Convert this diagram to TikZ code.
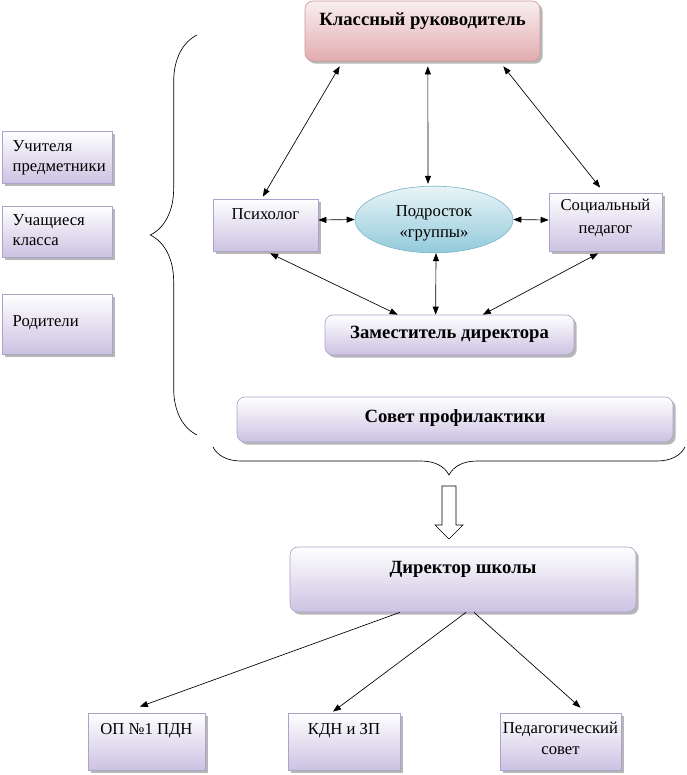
\documentclass[tikz,border=0pt]{standalone}
\usepackage{fontspec}
\setmainfont{Liberation Serif}
\usetikzlibrary{arrows.meta,shadows,shapes.geometric,decorations.pathreplacing}

\definecolor{lil}{RGB}{204,194,226}
\definecolor{lilline}{RGB}{172,162,204}
\definecolor{rose}{RGB}{226,172,176}
\definecolor{roseline}{RGB}{204,150,154}
\definecolor{aqua}{RGB}{146,202,218}
\definecolor{aqualine}{RGB}{128,184,200}

\tikzset{
  card/.style={draw=lilline, line width=0.5pt, top color=white, bottom color=lil,
    inner sep=0pt, drop shadow={shadow xshift=2pt, shadow yshift=-2pt, fill=gray!80, opacity=0.7},
    font=\fontsize{12.5}{15}\selectfont},
  bigcard/.style={card, rounded corners=6pt, font=\fontsize{14}{16.5}\selectfont\bfseries},
  link/.style={<->, >={Triangle[length=6pt,width=4.5pt]}, line width=0.5pt},
  order/.style={->, >={Triangle[length=6pt,width=4.5pt]}, line width=0.5pt}
}

\begin{document}
\begin{tikzpicture}[x=0.75pt, y=-0.75pt]
\useasboundingbox (0,0) rectangle (686,775);

% Top: class teacher
\node[bigcard, top color=rose!20, bottom color=rose, draw=roseline, minimum width=176.25pt, text height=18pt, text depth=27pt] (kr) at (422.5,31) {Классный руководитель};

% Left column
\node[card, align=left, text width=66.5pt, inner xsep=8pt, text height=15pt, text depth=24pt] (teach) at (57,157) {Учителя\\предметники};
\node[card, align=left, text width=66.5pt, inner xsep=8pt, text height=14.25pt, text depth=24pt] (pupils) at (57,231.5) {Учащиеся\\класса};
\node[card, align=left, text width=66.5pt, inner xsep=8pt, text height=24pt, text depth=21pt] (parents) at (57,324) {Родители};

% Middle row
\node[card, minimum width=78.75pt, text height=15pt, text depth=24pt] (psy) at (265.5,225) {Психолог};
\node[ellipse, draw=aqualine, line width=0.5pt, top color=aqua!20, bottom color=aqua, minimum width=118.5pt, minimum height=50pt, inner sep=0pt, align=center, text height=29.25pt, text depth=3pt, font=\fontsize{12.5}{15}\selectfont] (teen) at (434,219.5) {Подросток\\[0.75pt]«группы»};
\node[card, align=center, minimum width=84.75pt, text height=30pt, text depth=13.5pt] (soc) at (605.5,222) {Социальный\\[2.25pt]педагог};

\node[bigcard, minimum width=186.75pt, text height=17.25pt, text depth=12.75pt] (zam) at (449.5,335) {Заместитель директора};
\node[bigcard, minimum width=327pt, text height=18.75pt, text depth=15pt] (sov) at (455,419.5) {Совет профилактики};

% Braces and flow arrow
\draw[line width=0.5pt, decorate, decoration={brace, amplitude=35pt}] (197,435) -- (197,35);
\draw[line width=0.5pt, decorate, decoration={brace, amplitude=21pt}] (685,447) -- (213,447);
\draw[line width=0.5pt, fill=white] (442,486) -- (456,486) -- (456,525) -- (463,525) -- (449,539) -- (435,525) -- (442,525) -- cycle;

% Bottom
\node[bigcard, minimum width=259.5pt, text height=19.5pt, text depth=29.25pt] (dir) at (463,579.5) {Директор школы};
\node[card, minimum width=87.75pt, text height=15.75pt, text depth=27pt] (op) at (146.5,741.5) {ОП №1 ПДН};
\node[card, minimum width=84pt, text height=15.75pt, text depth=27pt] (kdn) at (344,741.5) {КДН и ЗП};
\node[card, align=center, minimum width=90.75pt, text height=30.75pt, text depth=12pt] (ped) at (560.5,741.5) {Педагогический\\[0.75pt]совет};

% Links
\draw[link] ([xshift=26.25pt,yshift=-3.75pt]kr.south west) -- ([xshift=-2pt,yshift=1.5pt]psy.north);
\draw[link] ([xshift=4pt,yshift=-3.75pt]kr.south) -- ([xshift=-4.5pt,yshift=1.5pt]teen.north);
\draw[link] ([xshift=-27.75pt,yshift=-3.75pt]kr.south east) -- ([xshift=-4pt,yshift=3.75pt]soc.north);
\draw[link] ([yshift=3.75pt]psy.east) -- (teen.west);
\draw[link] (teen.east) -- ([yshift=1.5pt]soc.west);
\draw[link] ([xshift=3.5pt,yshift=-1.5pt]psy.south) -- ([xshift=54.75pt]zam.north west);
\draw[link] ([xshift=1.5pt]teen.south) -- ([xshift=83.25pt]zam.north west);
\draw[link] ([xshift=-5.5pt,yshift=-1.5pt]soc.south) -- ([xshift=25pt]zam.north);

\draw[order] ([xshift=-47.25pt]dir.south) -- ([xshift=-5pt,yshift=4.5pt]op.north);
\draw[order] ([xshift=2.25pt]dir.south) -- ([xshift=-8.25pt,yshift=0.75pt]kdn.north);
\draw[order] ([xshift=8.25pt]dir.south) -- ([xshift=15pt,yshift=3.75pt]ped.north);
\end{tikzpicture}
\end{document}
